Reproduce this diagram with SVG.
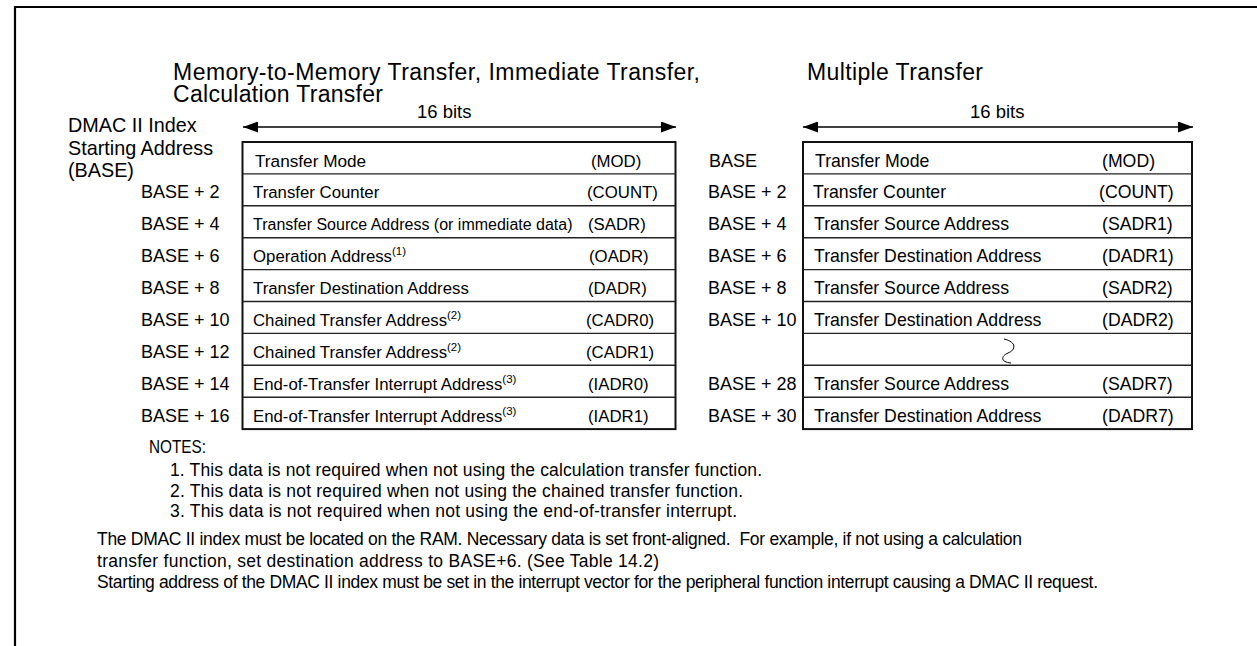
<svg xmlns="http://www.w3.org/2000/svg" width="1257" height="646" viewBox="0 0 1257 646">
<style>
text{font-family:"Liberation Sans",Arial,sans-serif;fill:#000}
.title{font-size:23px}
.lbl{font-size:18px}
.idx{font-size:19.8px}
.lt{font-size:16.8px}
.rt{font-size:17.7px}
.bits{font-size:18.5px}
.note{font-size:17.5px}
.sup{font-size:11.5px}
.frame{fill:none;stroke:#000;stroke-width:2.2}
.tbl{fill:#fff;stroke:#111;stroke-width:2}
.row{stroke:#222;stroke-width:1.4}
.arr{stroke:#000;stroke-width:1.4;fill:none}
</style>
<defs>
<marker id="ah" viewBox="0 0 15 11" refX="15" refY="5.5" markerWidth="15" markerHeight="11" markerUnits="userSpaceOnUse" orient="auto-start-reverse">
<path d="M0,0 L15,5.5 L0,11 Z" fill="#000"/>
</marker>
</defs>
<path class="frame" d="M15,660 L15,7 L1270,7"/>
<g id="titles">
<text class="title" x="173" y="80" textLength="527">Memory-to-Memory Transfer, Immediate Transfer,</text>
<text class="title" x="173" y="102" textLength="210">Calculation Transfer</text>
<text class="title" x="807" y="80" textLength="176">Multiple Transfer</text>
</g>
<g id="index-label">
<text class="idx" x="68" y="132">DMAC II Index</text>
<text class="idx" x="68" y="155">Starting Address</text>
<text class="idx" x="68" y="177">(BASE)</text>
</g>
<g id="connectors">
<line class="arr" x1="243" y1="127" x2="676" y2="127" marker-start="url(#ah)" marker-end="url(#ah)"/>
<line class="arr" x1="803" y1="127" x2="1193" y2="127" marker-start="url(#ah)" marker-end="url(#ah)"/>
</g>
<g id="bits-labels">
<text class="bits" x="417" y="118">16 bits</text>
<text class="bits" x="970" y="118">16 bits</text>
</g>
<g id="left-table">
<rect class="tbl" x="242.5" y="142" width="433" height="287.1"/>
<line class="row" x1="242.5" y1="173.9" x2="675.5" y2="173.9"/>
<line class="row" x1="242.5" y1="205.8" x2="675.5" y2="205.8"/>
<line class="row" x1="242.5" y1="237.7" x2="675.5" y2="237.7"/>
<line class="row" x1="242.5" y1="269.6" x2="675.5" y2="269.6"/>
<line class="row" x1="242.5" y1="301.5" x2="675.5" y2="301.5"/>
<line class="row" x1="242.5" y1="333.4" x2="675.5" y2="333.4"/>
<line class="row" x1="242.5" y1="365.3" x2="675.5" y2="365.3"/>
<line class="row" x1="242.5" y1="397.2" x2="675.5" y2="397.2"/>
<text class="lt" x="255" y="166.5" style="font-size:17.2px">Transfer Mode</text>
<text class="lt" x="591" y="166.5">(MOD)</text>
<text class="lt" x="253" y="198.4">Transfer Counter</text>
<text class="lt" x="587" y="198.4">(COUNT)</text>
<text class="lt" x="253" y="230.3" style="font-size:16px">Transfer Source Address (or immediate data)</text>
<text class="lt" x="588" y="230.3">(SADR)</text>
<text class="lt" x="253" y="262.2">Operation Address<tspan class="sup" dy="-7">(1)</tspan></text>
<text class="lt" x="589" y="262.2">(OADR)</text>
<text class="lt" x="253" y="294.1">Transfer Destination Address</text>
<text class="lt" x="588" y="294.1">(DADR)</text>
<text class="lt" x="253" y="326">Chained Transfer Address<tspan class="sup" dy="-7">(2)</tspan></text>
<text class="lt" x="586" y="326">(CADR0)</text>
<text class="lt" x="253" y="357.9">Chained Transfer Address<tspan class="sup" dy="-7">(2)</tspan></text>
<text class="lt" x="586" y="357.9">(CADR1)</text>
<text class="lt" x="253" y="389.8">End-of-Transfer Interrupt Address<tspan class="sup" dy="-7">(3)</tspan></text>
<text class="lt" x="588" y="389.8">(IADR0)</text>
<text class="lt" x="253" y="421.7">End-of-Transfer Interrupt Address<tspan class="sup" dy="-7">(3)</tspan></text>
<text class="lt" x="588" y="421.7">(IADR1)</text>
</g>
<g id="left-offsets">
<text class="lbl" x="141" y="198.4">BASE + 2</text>
<text class="lbl" x="141" y="230.3">BASE + 4</text>
<text class="lbl" x="141" y="262.2">BASE + 6</text>
<text class="lbl" x="141" y="294.1">BASE + 8</text>
<text class="lbl" x="141" y="326">BASE + 10</text>
<text class="lbl" x="141" y="357.9">BASE + 12</text>
<text class="lbl" x="141" y="389.8">BASE + 14</text>
<text class="lbl" x="141" y="421.7">BASE + 16</text>
</g>
<g id="right-table">
<rect class="tbl" x="803" y="142" width="389" height="287.1"/>
<line class="row" x1="803" y1="173.9" x2="1192" y2="173.9"/>
<line class="row" x1="803" y1="205.8" x2="1192" y2="205.8"/>
<line class="row" x1="803" y1="237.7" x2="1192" y2="237.7"/>
<line class="row" x1="803" y1="269.6" x2="1192" y2="269.6"/>
<line class="row" x1="803" y1="301.5" x2="1192" y2="301.5"/>
<line class="row" x1="803" y1="333.4" x2="1192" y2="333.4"/>
<line class="row" x1="803" y1="365.3" x2="1192" y2="365.3"/>
<line class="row" x1="803" y1="397.2" x2="1192" y2="397.2"/>
<text class="rt" x="815" y="166.5">Transfer Mode</text>
<text class="rt" x="1102" y="166.5">(MOD)</text>
<text class="rt" x="813" y="198.4">Transfer Counter</text>
<text class="rt" x="1099" y="198.4">(COUNT)</text>
<text class="rt" x="814" y="230.3">Transfer Source Address</text>
<text class="rt" x="1102" y="230.3">(SADR1)</text>
<text class="rt" x="814" y="262.2">Transfer Destination Address</text>
<text class="rt" x="1102" y="262.2">(DADR1)</text>
<text class="rt" x="814" y="294.1">Transfer Source Address</text>
<text class="rt" x="1102" y="294.1">(SADR2)</text>
<text class="rt" x="814" y="326">Transfer Destination Address</text>
<text class="rt" x="1102" y="326">(DADR2)</text>
<path d="M1004,339 C1017,342 1016,350 1008,353 C1001,356 1000,362 1011,363" fill="none" stroke="#000" stroke-width="1"/>
<text class="rt" x="814" y="389.8">Transfer Source Address</text>
<text class="rt" x="1102" y="389.8">(SADR7)</text>
<text class="rt" x="814" y="421.7">Transfer Destination Address</text>
<text class="rt" x="1102" y="421.7">(DADR7)</text>
</g>
<g id="right-offsets">
<text class="lbl" x="709" y="166.5">BASE</text>
<text class="lbl" x="708" y="198.4">BASE + 2</text>
<text class="lbl" x="708" y="230.3">BASE + 4</text>
<text class="lbl" x="708" y="262.2">BASE + 6</text>
<text class="lbl" x="708" y="294.1">BASE + 8</text>
<text class="lbl" x="708" y="326">BASE + 10</text>
<text class="lbl" x="708" y="389.8">BASE + 28</text>
<text class="lbl" x="708" y="421.7">BASE + 30</text>
</g>
<g id="notes">
<text class="note" x="149" y="453" textLength="57" lengthAdjust="spacingAndGlyphs">NOTES:</text>
<text class="note" x="170" y="476" textLength="592">1. This data is not required when not using the calculation transfer function.</text>
<text class="note" x="170" y="496.5" textLength="573">2. This data is not required when not using the chained transfer function.</text>
<text class="note" x="170" y="517" textLength="567">3. This data is not required when not using the end-of-transfer interrupt.</text>
<text class="note" x="97" y="545" textLength="925">The DMAC II index must be located on the RAM. Necessary data is set front-aligned.&#160; For example, if not using a calculation</text>
<text class="note" x="97" y="566.5" textLength="562">transfer function, set destination address to BASE+6. (See Table 14.2)</text>
<text class="note" x="97" y="588" textLength="1001">Starting address of the DMAC II index must be set in the interrupt vector for the peripheral function interrupt causing a DMAC II request.</text>
</g>
</svg>
